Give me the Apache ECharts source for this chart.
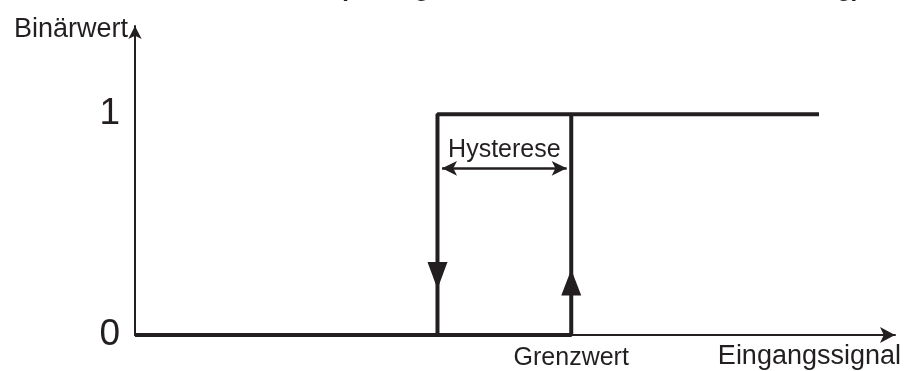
<!DOCTYPE html>
<html lang="de">
  <head>
    <meta charset="UTF-8" />
    <title>Hysterese</title>
    <script src="https://cdn.jsdelivr.net/npm/echarts@6/dist/echarts.min.js"></script>
  </head>
  <style>
    html,
    body {
      margin: 0;
      padding: 0;
      background: #fff;
    }
    #chart {
      width: 905px;
      height: 371px;
    }
  </style>
  <body>
    <div id="chart"></div>
  </body>
  <script>
    // Schaltkennlinie: Eingangssignal (x) -> Binärwert (y)
    const risingPath = [[0, 0], [57.4, 0], [57.4, 1], [90, 1]];
    const fallingPath = [[57.4, 1], [39.8, 1], [39.8, 0]];
    const downArrow = [[39.8, 0.27]];
    const upArrow = [[57.4, 0.238]];
    const hysteresis = [40.4, 56.8, 0.755];
    const thresholdValues = [57.4];
    const yTickLabels = [0, 1];

    const ink = "#231f20";
    const font = "Liberation Sans";

    const chart = echarts.init(document.getElementById("chart"));
    const option = {
      animation: false,
      title: {
        text: "Schaltverhalten (Anzeige des Schaltzustands bei Änderung)",
        left: 146,
        top: -23,
        padding: 0,
        textStyle: { fontFamily: font, fontWeight: "bold", fontSize: 25, color: ink },
      },
      grid: { left: 135, right: 10, top: 26, bottom: 35 },
      xAxis: {
        type: "value",
        min: 0,
        max: 100,
        name: "Eingangssignal",
        nameLocation: "end",
        nameGap: 6,
        nameTextStyle: {
          fontFamily: font,
          fontSize: 27,
          color: ink,
          align: "right",
          verticalAlign: "top",
          padding: [8, 0, 0, 0],
        },
        axisLine: {
          lineStyle: { color: ink, width: 2 },
          symbol: ["none", "arrow"],
          symbolSize: [12, 15],
        },
        axisTick: { show: false },
        splitLine: { show: false },
        axisLabel: {
          customValues: thresholdValues,
          formatter: () => "Grenzwert",
          fontFamily: font,
          fontSize: 25,
          color: ink,
          margin: 11,
        },
      },
      yAxis: {
        type: "value",
        min: 0,
        max: 1.4,
        interval: 1,
        name: "Binärwert",
        nameLocation: "end",
        nameGap: -4,
        nameTextStyle: {
          fontFamily: font,
          fontSize: 27,
          color: ink,
          align: "right",
          verticalAlign: "middle",
          padding: [0, 7, 0, 0],
        },
        axisLine: {
          show: true,
          lineStyle: { color: ink, width: 2 },
          symbol: ["none", "arrow"],
          symbolSize: [10, 13],
        },
        axisTick: { show: false },
        splitLine: { show: false },
        axisLabel: {
          formatter: (v) => (yTickLabels.includes(v) ? String(v) : ""),
          fontFamily: font,
          fontSize: 37,
          color: ink,
          margin: 15,
        },
      },
      series: [
        {
          type: "line",
          data: risingPath,
          symbol: "none",
          clip: false,
          lineStyle: { color: ink, width: 4 },
          markLine: {
            silent: true,
            symbol: ["arrow", "arrow"],
            symbolSize: [11, 15],
            lineStyle: { color: ink, width: 2.5, type: "solid" },
            label: {
              show: true,
              position: "middle",
              formatter: "Hysterese",
              fontFamily: font,
              fontSize: 25,
              color: ink,
              distance: 6,
            },
            data: [
              [
                { coord: [hysteresis[0], hysteresis[2]] },
                { coord: [hysteresis[1], hysteresis[2]] },
              ],
            ],
          },
        },
        {
          type: "line",
          data: fallingPath,
          symbol: "none",
          clip: false,
          lineStyle: { color: ink, width: 4 },
        },
        {
          type: "scatter",
          data: downArrow,
          symbol: "triangle",
          symbolRotate: 180,
          symbolSize: [20, 27],
          itemStyle: { color: ink, opacity: 1 },
        },
        {
          type: "scatter",
          data: upArrow,
          symbol: "triangle",
          symbolSize: [20, 26],
          itemStyle: { color: ink, opacity: 1 },
        },
      ],
    };
    chart.setOption(option);
  </script>
</html>
